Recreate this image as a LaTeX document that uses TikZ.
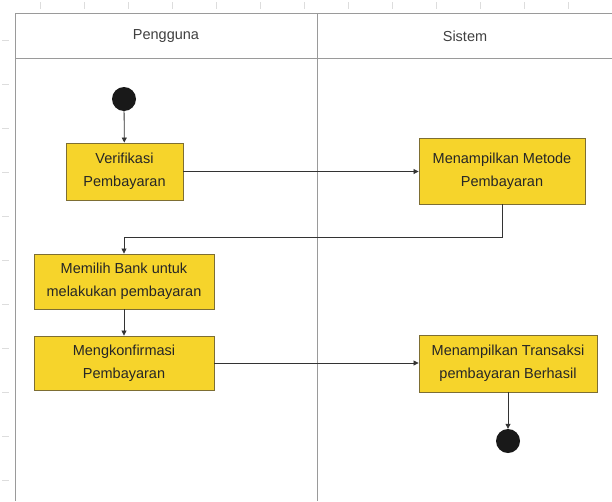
\documentclass[tikz,border=0pt]{standalone}
\usepackage{fontspec}
\setmainfont{Liberation Sans}
\usetikzlibrary{arrows.meta}
\definecolor{boxfill}{HTML}{F6D42B}
\definecolor{boxline}{HTML}{7D6E33}
\definecolor{frameline}{HTML}{9A9A9A}
\definecolor{flow}{HTML}{333333}
\definecolor{tick}{HTML}{DDDDDD}
\tikzset{
  actbox/.style={draw=boxline, line width=0.9pt, fill=boxfill, align=center,
    inner sep=2pt, text=black!85,
    font=\fontsize{14.5}{23}\selectfont},
  startdot/.style={circle, fill=black!90, minimum size=24pt, inner sep=0pt},
  flowline/.style={draw=flow, line width=0.8pt, -{Triangle[length=5pt,width=5pt]}},
  lanehead/.style={font=\fontsize{14.5}{17}\selectfont, text=black!75},
  frame/.style={draw=frameline, line width=0.9pt},
  ruler/.style={draw=tick, line width=0.8pt}
}
\begin{document}
\begin{tikzpicture}[x=1pt,y=-1pt]
\useasboundingbox[fill=white] (0,0) rectangle (612,501);
% faint ruler ticks
\foreach \i in {40,84,128,172,216,260,304,348,392,436,480,524,568} {
  \draw[ruler] (\i,2) -- (\i,9);
}
\foreach \j in {40,84,128,172,216,260,304,348,392,436,480} {
  \draw[ruler] (2,\j) -- (9,\j);
}
% swimlane frame
\draw[frame] (612,13) -- (15,13) -- (15,501);
\draw[frame] (15,58) -- (612,58);
\draw[frame] (317,13) -- (317,501);
\node[lanehead] (h1) at (166,36) {Pengguna};
\node[lanehead] (h2) at (465,36) {Sistem};
% nodes
\node[startdot] (start) at (124,99) {};
\node[actbox, minimum width=117pt, minimum height=57pt] (verif) at (124.5,171.5) {Verifikasi\\Pembayaran};
\node[actbox, minimum width=166pt, minimum height=66pt] (metode) at (502,171) {Menampilkan Metode\\Pembayaran};
\node[actbox, minimum width=180pt, minimum height=55pt] (bank) at (124,281.5) {Memilih Bank untuk\\melakukan pembayaran};
\node[actbox, minimum width=180pt, minimum height=54pt] (konf) at (124,363) {Mengkonfirmasi\\Pembayaran};
\node[actbox, minimum width=178pt, minimum height=57pt] (trans) at (508,363.5) {Menampilkan Transaksi\\pembayaran Berhasil};
\node[startdot] (end) at (508,441) {};
\coordinate (c1) at (502,237);
\coordinate (c2) at (124,237);
% connectors
\draw[flowline] (start) -- (verif);
\draw[flowline] (verif.east) -- (verif.east -| metode.west);
\draw[flowline] (metode.south) -- (c1) -- (c2) -- (bank.north);
\draw[flowline] (bank) -- (konf);
\draw[flowline] (konf.east) -- (konf.east -| trans.west);
\draw[flowline] (trans) -- (end);
\end{tikzpicture}
\end{document}
